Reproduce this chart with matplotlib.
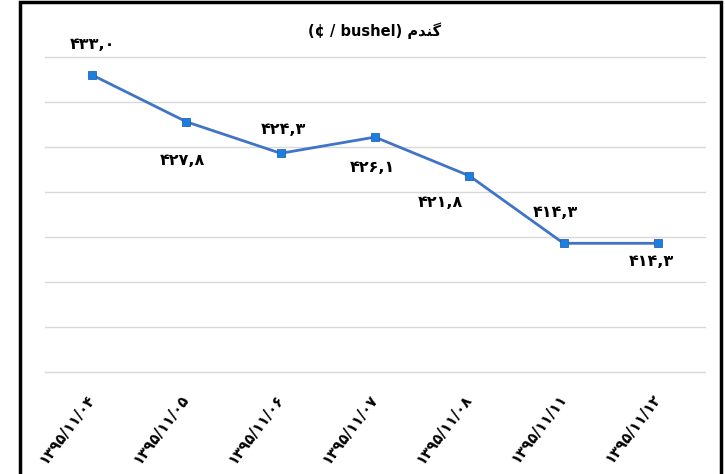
import matplotlib.pyplot as plt
from matplotlib.patches import Rectangle

# ----------------------------------
# Data
# ----------------------------------

dates = [
    "۱۳۹۵/۱۱/۰۴",
    "۱۳۹۵/۱۱/۰۵",
    "۱۳۹۵/۱۱/۰۶",
    "۱۳۹۵/۱۱/۰۷",
    "۱۳۹۵/۱۱/۰۸",
    "۱۳۹۵/۱۱/۱۱",
    "۱۳۹۵/۱۱/۱۲",
]

prices = [433.0, 427.8, 424.3, 426.1, 421.8, 414.3, 414.3]

# title: "(¢ / bushel) گندم" written in visual order with presentation forms
title = "(¢ / bushel) \uFEE1\uFEAA\uFEE8\uFB94"

# label offsets in points (above / below the marker)
label_offsets = [(0, 22), (-3, -28), (2, 17), (-2, -22), (-21, -19), (-6, 22), (-5, -13)]

fa_digits = str.maketrans("0123456789.", "۰۱۲۳۴۵۶۷۸۹,")


def fa(v):
    return f"{v:.1f}".translate(fa_digits)


plt.rcParams["font.family"] = ["DejaVu Sans"]

# ----------------------------------
# Plot
# ----------------------------------

fig = plt.figure(figsize=(7.25, 4.74), dpi=100, facecolor="white")
ax = fig.add_axes([45 / 725, 1 - 372 / 474, 660 / 725, 315 / 474])

x = list(range(len(prices)))

ax.plot(
    x,
    prices,
    color="#3f74c6",
    linewidth=2.0,
    marker="s",
    markersize=6,
    markerfacecolor="#1a7fe0",
    markeredgecolor="#2a62b0",
    markeredgewidth=0.6,
    zorder=3,
)

for i, v in enumerate(prices):
    ax.annotate(
        fa(v),
        (i, v),
        xytext=label_offsets[i],
        textcoords="offset points",
        ha="center",
        va="center",
        fontsize=11.5,
        fontweight="bold",
        color="black",
    )

ax.set_xlim(-0.5, len(prices) - 0.5)
ax.set_ylim(400, 435)
ax.set_yticks([400, 405, 410, 415, 420, 425, 430, 435])
ax.grid(axis="y", color="#d9d9d9", linewidth=1.0)
ax.set_axisbelow(True)
for gl in ax.get_ygridlines():
    gl.set_clip_on(False)
ax.tick_params(axis="y", left=False, labelleft=False)
ax.tick_params(axis="x", length=0, pad=17)

ax.set_xticks(x)
ax.set_xticklabels(
    dates,
    rotation=53,
    ha="right",
    va="center",
    rotation_mode="anchor",
    fontsize=10.5,
    fontweight="bold",
)

for s in ax.spines.values():
    s.set_visible(False)

fig.text(
    375 / 725,
    1 - 31 / 474,
    title,
    ha="center",
    va="center",
    fontsize=10.5,
    fontweight="bold",
)

# outer frame
fig.add_artist(
    Rectangle(
        (20 / 725, -0.05),
        701 / 725,
        1.05 - 2 / 474,
        transform=fig.transFigure,
        fill=False,
        edgecolor="black",
        linewidth=2.5,
    )
)

plt.savefig("out.png", dpi=100, facecolor="white")
